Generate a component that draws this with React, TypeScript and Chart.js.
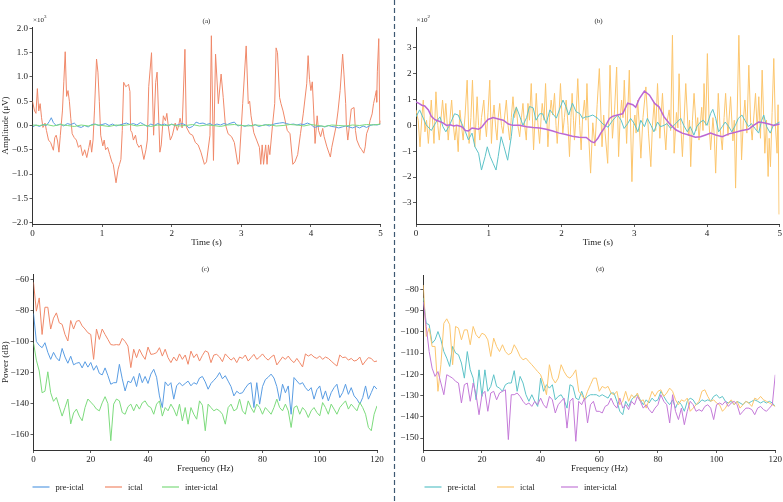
import React, { useEffect, useRef } from "react";
import { Chart, registerables } from "chart.js";
Chart.register(...registerables);

const FONT = '"Liberation Serif", "Times New Roman", Times, serif';
const W = 783;
const H = 502;

// ---------- (a) time domain, x10^3 µV : [time s, amplitude] ----------
const aIctal: number[][] = [[0.00,0.50],[0.03,0.30],[0.05,0.25],[0.07,0.76],[0.09,0.30],[0.11,0.45],[0.13,0.16],[0.15,-0.04],[0.18,0.05],[0.20,-0.10],[0.23,-0.30],[0.26,-0.35],[0.30,-0.51],[0.32,-0.25],[0.34,-0.20],[0.36,-0.32],[0.38,-0.55],[0.40,-0.20],[0.43,0.30],[0.45,0.90],[0.47,1.52],[0.49,0.60],[0.51,0.72],[0.53,0.50],[0.55,0.15],[0.57,-0.17],[0.60,-0.25],[0.63,-0.30],[0.66,-0.45],[0.69,-0.40],[0.72,-0.62],[0.75,-0.50],[0.78,-0.66],[0.81,-0.45],[0.83,-0.30],[0.85,-0.55],[0.87,-0.30],[0.89,0.30],[0.92,1.37],[0.94,1.10],[0.96,0.50],[0.98,-0.20],[1.01,-0.42],[1.03,-0.30],[1.05,-0.50],[1.08,-0.45],[1.11,-0.60],[1.14,-0.75],[1.16,-0.80],[1.20,-1.18],[1.23,-0.90],[1.25,-0.80],[1.27,-0.70],[1.29,-0.10],[1.31,0.89],[1.34,0.80],[1.36,0.82],[1.38,0.85],[1.40,0.70],[1.41,-0.10],[1.43,-0.15],[1.45,-0.30],[1.48,-0.20],[1.50,-0.37],[1.53,-0.45],[1.56,-0.40],[1.60,-0.70],[1.63,-0.50],[1.65,-0.30],[1.67,0.80],[1.71,1.50],[1.74,-0.20],[1.77,0.89],[1.79,1.10],[1.83,-0.55],[1.85,-0.40],[1.88,0.20],[1.91,0.10],[1.93,0.25],[1.95,0.00],[1.98,-0.30],[2.01,-0.20],[2.05,0.05],[2.08,-0.10],[2.10,0.00],[2.12,0.15],[2.15,-0.05],[2.19,1.57],[2.21,-0.03],[2.26,-0.17],[2.30,-0.20],[2.34,-0.35],[2.38,-0.40],[2.42,-0.55],[2.47,-0.80],[2.50,-0.75],[2.55,-0.20],[2.57,1.85],[2.60,-0.72],[2.63,1.47],[2.67,0.45],[2.71,1.06],[2.74,0.58],[2.77,0.03],[2.81,-0.17],[2.86,-0.23],[2.90,-0.35],[2.95,-0.80],[2.97,-0.75],[3.02,0.45],[3.07,1.64],[3.10,0.45],[3.12,0.50],[3.14,0.20],[3.18,-0.15],[3.22,-0.30],[3.26,-0.45],[3.28,-0.80],[3.30,-0.40],[3.32,-0.80],[3.35,-0.40],[3.37,-0.80],[3.39,-0.40],[3.41,-0.60],[3.45,0.03],[3.48,0.45],[3.50,1.60],[3.52,1.50],[3.55,0.58],[3.57,0.45],[3.60,0.30],[3.66,-0.10],[3.70,-0.17],[3.74,-0.80],[3.77,-0.75],[3.81,-0.60],[3.85,-0.17],[3.89,0.24],[3.94,0.86],[3.96,1.44],[3.98,0.95],[4.00,0.72],[4.02,0.90],[4.04,0.30],[4.06,-0.37],[4.09,0.20],[4.11,-0.10],[4.14,-0.23],[4.17,-0.06],[4.19,-0.23],[4.23,-0.44],[4.28,-0.65],[4.30,-0.45],[4.36,-0.03],[4.39,0.30],[4.42,0.72],[4.456,1.47],[4.475,1.06],[4.50,0.45],[4.51,0.00],[4.53,-0.30],[4.55,-0.05],[4.58,0.34],[4.62,0.37],[4.64,-0.10],[4.66,-0.30],[4.70,-0.44],[4.73,-0.50],[4.76,-0.57],[4.78,-0.44],[4.80,-0.17],[4.83,-0.05],[4.85,0.10],[4.88,0.24],[4.90,0.45],[4.92,0.58],[4.94,0.72],[4.945,0.48],[4.955,1.12],[4.975,1.79],[4.99,0.03],[5.00,0.10]];
const aPre: number[][] = [[0,-0.03],[0.05,0.01],[0.1,-0.02],[0.15,0.02],[0.2,0.0],[0.24,0.08],[0.27,0.16],[0.3,0.06],[0.34,0.0],[0.4,0.03],[0.45,-0.01],[0.5,0.04],[0.55,0.02],[0.6,0.05],[0.65,-0.02],[0.7,-0.04],[0.75,0.0],[0.8,-0.03],[0.85,0.02],[0.9,0.03],[0.95,0.0],[1.0,0.02],[1.05,0.04],[1.1,0.0],[1.15,0.03],[1.2,-0.01],[1.25,0.01],[1.3,0.03],[1.35,0.05],[1.4,0.02],[1.45,0.04],[1.5,0.01],[1.55,0.06],[1.6,0.02],[1.65,-0.02],[1.7,0.03],[1.75,0.0],[1.8,0.04],[1.85,0.01],[1.9,0.03],[1.95,-0.01],[2.0,0.03],[2.05,0.0],[2.1,0.02],[2.15,0.04],[2.2,0.01],[2.25,-0.05],[2.3,-0.02],[2.35,0.07],[2.4,0.04],[2.45,0.05],[2.5,0.02],[2.55,0.04],[2.6,0.0],[2.65,0.03],[2.7,0.01],[2.75,0.04],[2.8,0.02],[2.85,0.05],[2.9,0.07],[2.95,-0.01],[3.0,0.01],[3.05,-0.02],[3.1,0.01],[3.15,-0.01],[3.2,0.02],[3.25,-0.02],[3.3,0.0],[3.35,0.02],[3.4,-0.01],[3.45,0.02],[3.5,0.04],[3.55,0.05],[3.6,0.06],[3.65,0.04],[3.7,0.02],[3.75,0.03],[3.8,0.01],[3.85,0.03],[3.9,0.02],[3.95,0.05],[4.0,0.02],[4.05,-0.04],[4.1,-0.02],[4.15,-0.01],[4.2,-0.03],[4.25,0.0],[4.3,-0.02],[4.35,-0.03],[4.4,-0.05],[4.45,-0.03],[4.5,-0.01],[4.55,-0.03],[4.6,-0.05],[4.65,-0.02],[4.7,-0.05],[4.75,-0.01],[4.8,-0.04],[4.85,0.0],[4.9,0.02],[4.95,0.01],[5.0,0.03]];
const aInter: number[][] = [[0,0.01],[0.1,0.0],[0.2,0.02],[0.3,-0.01],[0.4,0.02],[0.5,0.0],[0.6,-0.02],[0.7,0.01],[0.8,-0.01],[0.9,0.02],[1.0,0.0],[1.1,-0.02],[1.2,0.01],[1.3,0.0],[1.4,0.02],[1.5,-0.01],[1.6,0.01],[1.7,-0.02],[1.8,0.01],[1.9,0.0],[2.0,0.02],[2.1,-0.01],[2.2,0.0],[2.3,0.02],[2.4,-0.01],[2.5,0.01],[2.6,0.0],[2.7,-0.02],[2.8,0.01],[2.9,0.02],[3.0,0.0],[3.1,-0.01],[3.2,0.01],[3.3,0.0],[3.4,0.02],[3.5,-0.01],[3.6,0.0],[3.7,0.02],[3.8,0.01],[3.9,-0.01],[4.0,0.02],[4.1,0.0],[4.2,-0.02],[4.3,0.01],[4.4,0.0],[4.5,-0.01],[4.6,0.01],[4.7,0.0],[4.8,0.02],[4.9,0.01],[5.0,0.03]];

// ---------- (b) time domain, x10^2 µV : [time s, amplitude] ----------
const bIctal: number[][] = [[0.00,0.60],[0.03,0.20],[0.055,-0.83],[0.08,0.30],[0.10,0.98],[0.123,-0.25],[0.145,0.20],[0.17,-0.70],[0.19,0.10],[0.21,0.98],[0.247,-0.70],[0.274,1.30],[0.30,0.00],[0.32,-0.57],[0.345,0.30],[0.365,0.98],[0.39,0.10],[0.41,0.85],[0.443,-0.57],[0.465,0.20],[0.49,0.98],[0.51,0.10],[0.534,-0.57],[0.555,0.00],[0.58,-1.02],[0.603,0.59],[0.625,0.00],[0.648,-0.57],[0.675,0.40],[0.703,1.75],[0.73,-0.70],[0.755,0.30],[0.776,1.75],[0.808,-0.83],[0.825,0.20],[0.84,1.11],[0.86,0.00],[0.877,-0.57],[0.90,0.30],[0.932,0.98],[0.95,0.10],[0.968,-0.44],[0.99,0.50],[1.014,1.75],[1.037,-0.70],[1.055,0.30],[1.073,0.79],[1.095,-0.10],[1.114,-0.57],[1.13,0.30],[1.151,0.85],[1.175,0.00],[1.196,-0.31],[1.22,0.40],[1.242,0.98],[1.265,0.00],[1.288,-0.57],[1.31,0.30],[1.333,1.11],[1.355,0.30],[1.379,0.72],[1.40,0.00],[1.425,-0.44],[1.45,0.30],[1.47,0.85],[1.49,0.10],[1.516,-0.57],[1.539,0.85],[1.56,0.20],[1.584,1.62],[1.616,-0.95],[1.635,0.20],[1.653,1.24],[1.675,0.10],[1.699,-0.70],[1.72,0.30],[1.735,0.85],[1.76,0.20],[1.781,1.62],[1.813,-0.83],[1.835,0.30],[1.858,0.98],[1.88,0.40],[1.904,1.24],[1.925,0.00],[1.941,-0.70],[1.965,0.40],[1.986,1.62],[2.018,-0.31],[2.04,0.30],[2.064,0.98],[2.09,0.00],[2.11,-1.21],[2.13,0.30],[2.146,1.24],[2.165,0.20],[2.178,-0.57],[2.20,0.40],[2.224,1.81],[2.25,0.00],[2.27,-0.95],[2.29,0.30],[2.315,0.98],[2.335,0.20],[2.35,1.62],[2.375,-0.50],[2.40,-1.85],[2.43,0.10],[2.46,-0.80],[2.49,0.80],[2.52,2.20],[2.557,-0.83],[2.58,0.40],[2.60,-0.30],[2.635,-1.47],[2.667,2.33],[2.70,-0.50],[2.73,0.60],[2.758,2.26],[2.785,-1.21],[2.805,0.20],[2.826,0.98],[2.845,0.30],[2.863,1.75],[2.895,-0.70],[2.932,2.14],[2.968,-2.18],[2.99,0.00],[3.009,0.40],[3.025,-0.30],[3.046,0.98],[3.07,0.00],[3.091,-1.27],[3.12,0.30],[3.16,1.49],[3.196,-0.30],[3.228,-1.60],[3.25,0.00],[3.274,0.90],[3.295,-0.20],[3.32,1.62],[3.352,-0.50],[3.388,1.24],[3.41,0.00],[3.434,-0.95],[3.455,0.20],[3.48,0.60],[3.50,-0.20],[3.525,3.49],[3.548,-1.08],[3.58,0.50],[3.60,-0.10],[3.616,2.00],[3.64,0.00],[3.662,-1.21],[3.685,0.20],[3.708,1.62],[3.744,-0.40],[3.76,0.20],[3.776,-1.60],[3.80,0.20],[3.822,1.24],[3.854,-0.20],[3.872,0.30],[3.89,-0.57],[3.927,0.70],[3.945,-0.20],[3.959,1.62],[3.982,0.00],[4.005,2.78],[4.03,0.00],[4.05,-0.95],[4.082,0.30],[4.10,-0.40],[4.119,-1.85],[4.155,1.24],[4.18,-0.10],[4.21,-0.95],[4.235,0.30],[4.256,1.24],[4.288,-0.40],[4.324,1.11],[4.356,-0.60],[4.375,0.20],[4.393,-2.43],[4.438,3.49],[4.475,-1.34],[4.50,0.20],[4.521,0.98],[4.548,-0.30],[4.575,2.33],[4.60,0.10],[4.621,-0.57],[4.645,0.40],[4.667,1.24],[4.69,-0.20],[4.712,1.11],[4.735,-0.50],[4.758,2.14],[4.795,-1.08],[4.818,0.20],[4.84,-1.98],[4.855,-0.50],[4.872,-1.60],[4.895,0.50],[4.918,2.59],[4.94,0.00],[4.963,-1.08],[4.977,0.80],[4.99,-3.45]];
const bPre: number[][] = [[0.00,0.33],[0.05,0.60],[0.10,0.28],[0.14,0.02],[0.21,-0.20],[0.27,0.10],[0.33,0.33],[0.37,-0.05],[0.41,-0.25],[0.46,0.00],[0.53,0.45],[0.58,0.40],[0.63,0.07],[0.68,-0.25],[0.72,-0.56],[0.77,-0.30],[0.81,-0.83],[0.86,-1.08],[0.90,-1.73],[0.95,-1.21],[0.98,-0.83],[1.02,-1.21],[1.06,-1.47],[1.10,-1.73],[1.13,-1.21],[1.17,-0.44],[1.21,-0.83],[1.26,-1.35],[1.31,-0.44],[1.34,0.40],[1.38,0.70],[1.42,0.40],[1.47,0.00],[1.52,0.30],[1.56,0.73],[1.61,0.68],[1.65,0.20],[1.70,0.45],[1.74,0.45],[1.79,0.07],[1.84,0.60],[1.88,0.45],[1.93,0.28],[1.97,0.60],[2.02,0.98],[2.06,0.73],[2.10,0.40],[2.15,0.86],[2.20,0.53],[2.25,0.46],[2.29,0.27],[2.33,0.33],[2.36,0.33],[2.43,0.40],[2.50,0.27],[2.57,0.05],[2.64,-0.07],[2.70,0.18],[2.77,0.40],[2.82,0.20],[2.86,-0.12],[2.91,0.07],[2.95,0.27],[3.00,0.07],[3.05,-0.25],[3.09,0.20],[3.14,-0.05],[3.18,0.27],[3.23,0.00],[3.27,-0.25],[3.32,0.13],[3.36,-0.05],[3.41,0.00],[3.45,0.07],[3.50,-0.12],[3.57,0.07],[3.64,0.27],[3.68,0.00],[3.73,-0.25],[3.77,-0.05],[3.82,-0.38],[3.86,-0.05],[3.91,0.13],[3.95,0.20],[4.00,0.00],[4.05,0.46],[4.08,0.62],[4.12,0.27],[4.16,-0.25],[4.21,-0.05],[4.25,0.13],[4.30,-0.05],[4.34,-0.25],[4.39,0.00],[4.43,0.27],[4.48,0.40],[4.52,0.20],[4.57,-0.05],[4.61,0.07],[4.66,-0.12],[4.71,-0.30],[4.75,0.18],[4.78,0.40],[4.82,-0.05],[4.87,-0.30],[4.91,0.00],[4.96,0.07],[5.00,0.13]];
const bInter: number[][] = [[0.00,0.91],[0.04,0.85],[0.08,0.78],[0.12,0.75],[0.17,0.60],[0.21,0.35],[0.26,0.22],[0.30,0.18],[0.37,0.10],[0.42,0.00],[0.47,0.02],[0.52,-0.02],[0.56,0.00],[0.63,-0.05],[0.68,-0.20],[0.72,-0.22],[0.77,-0.10],[0.81,-0.12],[0.86,-0.15],[0.90,-0.08],[0.95,0.10],[0.99,0.23],[1.06,0.30],[1.13,0.25],[1.20,0.20],[1.27,0.05],[1.33,0.00],[1.42,0.00],[1.52,-0.05],[1.61,-0.08],[1.70,-0.10],[1.79,-0.15],[1.88,-0.22],[1.97,-0.30],[2.06,-0.35],[2.15,-0.42],[2.24,-0.46],[2.34,-0.47],[2.41,-0.63],[2.45,-0.67],[2.50,-0.50],[2.54,-0.30],[2.59,-0.10],[2.66,0.27],[2.70,0.35],[2.77,0.40],[2.84,0.45],[2.91,0.86],[2.98,0.80],[3.02,0.70],[3.07,1.04],[3.14,1.33],[3.21,1.17],[3.28,0.85],[3.34,0.72],[3.41,0.33],[3.48,0.08],[3.57,-0.17],[3.66,-0.30],[3.75,-0.37],[3.84,-0.46],[3.91,-0.44],[3.98,-0.37],[4.05,-0.30],[4.12,-0.37],[4.21,-0.44],[4.30,-0.33],[4.39,-0.27],[4.48,-0.20],[4.57,-0.15],[4.64,0.00],[4.71,0.13],[4.78,0.10],[4.85,0.05],[4.92,0.00],[5.00,0.05]];

// ---------- (c),(d) power spectra, dB, one value per 1 Hz bin ----------
const freqHz: number[] = Array.from({ length: 121 }, (_, i) => i);
const cPre: number[] = [-82,-100,-102.5,-104,-100.8,-107,-111.5,-107,-110.5,-112.5,-104.5,-110,-114,-109.5,-115,-114,-113.5,-117,-113,-116.5,-113.5,-118.5,-115.5,-120.5,-121.5,-117,-122,-127.5,-126.5,-126.5,-114.7,-124,-131.8,-125.5,-126.5,-122.5,-129,-120.5,-126.5,-122.5,-127,-121,-117.9,-123,-135,-142.5,-126,-128.5,-126.5,-137.1,-128.5,-126.5,-128.5,-127,-125.5,-128.5,-126.5,-127.5,-123.5,-122.5,-126,-130.7,-127,-125,-123,-120,-124,-122,-125.5,-129,-135,-132,-133.5,-133,-130,-127.5,-126.5,-142.5,-126.5,-140.3,-129,-124.5,-123,-121,-123.5,-129,-138.2,-127.5,-133,-128.6,-146.8,-123.2,-125.4,-127.5,-126.5,-129.7,-131.8,-129.7,-137.1,-131,-128.6,-137.1,-131.8,-138.2,-132.9,-129.7,-127.5,-136.1,-132.9,-127.5,-134,-129.7,-135,-137.1,-140.3,-136.1,-128.6,-137.1,-132.9,-128.6,-130.7];
const cIctal: number[] = [-62,-80.5,-72,-95.5,-78,-78,-92,-85,-81.6,-88,-89,-95.5,-99.7,-86.5,-92,-87,-86.5,-90,-92,-94.4,-95.5,-111.5,-92,-98.7,-92,-95.5,-98.7,-102,-102.3,-102,-102.3,-98,-100,-103,-116.8,-105,-110.4,-105,-108.7,-111.5,-103.6,-108.3,-108,-107.2,-104,-109.4,-105,-110.4,-113.6,-110,-112.6,-108,-111.5,-108.7,-114.7,-106.2,-110.4,-108,-112.6,-109,-106,-107,-113.6,-108.7,-108.3,-110,-113,-108,-110,-112,-110.4,-113.6,-110,-110.9,-108.7,-112.6,-110.4,-108.3,-111.5,-110,-108,-110.4,-112,-110,-108.7,-115.1,-112.6,-110,-111.5,-109.4,-112,-113.6,-110.9,-113.6,-116.4,-108,-109.4,-108.3,-110,-110.9,-109.4,-111.5,-110,-110.9,-112.6,-114.3,-115.8,-108.7,-110.4,-110,-112,-110.9,-112.6,-112,-110,-115.1,-112.6,-110.4,-110.9,-113,-112.6];
const cInter: number[] = [-100.8,-112,-119,-133,-132,-119.5,-133,-138.5,-136,-142,-148,-142.5,-137,-153,-146,-143.5,-148,-151,-142.5,-137,-139,-141,-143.5,-144.6,-139.5,-135.5,-140,-163.8,-140.3,-137,-138.2,-145.7,-146.8,-142,-140.3,-144.6,-140.3,-143.5,-139.5,-138.2,-141.4,-142.5,-146.8,-140.3,-138.2,-148,-142.5,-144.6,-140.3,-143.5,-148,-140.3,-151,-142.5,-153.2,-142.5,-146.8,-150,-138.2,-141,-157.4,-140.3,-142.5,-144.6,-143.5,-144.6,-146.8,-153.2,-142.5,-140.3,-144.6,-143.5,-137.1,-144.6,-146.8,-138.2,-142.5,-145.7,-140.3,-142.5,-146.8,-142.5,-144.6,-146.8,-142.5,-137.1,-142.5,-144.6,-140.3,-144.6,-155.3,-142.5,-141.4,-146.8,-142.5,-144.6,-148.9,-144.6,-142.5,-145.7,-147.8,-139.3,-142.5,-146.8,-140.3,-143.5,-146.8,-142.5,-140.3,-138.2,-143.5,-140.3,-142.5,-144.6,-139.3,-142.5,-146.8,-155.3,-157.4,-146.8,-141.4];
const dPre: number[] = [-84,-96,-96.7,-105.4,-103.8,-99.9,-103.8,-109.3,-112.4,-116.3,-106.9,-110,-110.8,-114.7,-121.8,-109.3,-117.9,-121.8,-132,-117.9,-130.4,-117.9,-128,-125.7,-120.2,-125.7,-126.5,-128,-124.9,-124.1,-124.1,-118.3,-128,-121,-124.1,-129.6,-132.7,-129.6,-132.7,-135.1,-121.8,-128,-124.9,-126.5,-124.9,-132,-130.4,-129.6,-132,-135.9,-124.9,-125.7,-131.2,-132,-128,-132,-130.4,-129.6,-129.6,-129.6,-130.4,-129.6,-130.4,-131.2,-128.8,-128.8,-132.7,-137.4,-139,-132.7,-135.1,-132,-130.4,-129.6,-132,-134.3,-132,-133.5,-131.2,-132.7,-132,-128,-130.4,-132.7,-134.3,-132,-135.9,-132.7,-134.3,-137.4,-132.7,-131.2,-132,-134.3,-133.5,-132,-132.7,-132,-132.7,-130.4,-129.6,-131.2,-130.4,-132.7,-133.5,-132.7,-134.3,-132.7,-133.5,-134.3,-132.7,-133.5,-132.7,-132,-132.7,-133.5,-132.7,-133.5,-132.7,-133.5,-135.1];
const dIctal: number[] = [-78,-102.2,-98.3,-106.9,-106.9,-128,-115.5,-96,-93.9,-96.7,-115.5,-97.5,-98.3,-103.8,-99.1,-99.1,-106.1,-97.5,-101.4,-103,-100.7,-101.4,-103.8,-111.6,-103,-106.9,-109.3,-106.1,-109.3,-110.8,-110,-106.1,-108.5,-111.6,-113.2,-112.4,-114,-115.5,-117.1,-118.7,-120.2,-124.1,-129.6,-115.5,-121.8,-124.1,-121.8,-115.5,-118.7,-121,-121.8,-120.2,-117.9,-128,-129.6,-132,-128,-124.9,-121.8,-121.8,-128,-125.7,-126.5,-125.7,-128.8,-129.6,-128,-134.3,-132.7,-128,-132.7,-129.6,-131.2,-128.8,-132.7,-132,-135.9,-132,-128,-130.4,-128,-127.3,-130.4,-128.8,-126.5,-128,-132,-134.3,-132,-132.7,-131.2,-137.4,-135.9,-134.3,-132.7,-128,-127.3,-130.4,-132.7,-132,-133.5,-134.3,-137.4,-135.9,-133.5,-132,-134.3,-132.7,-135.9,-134.3,-132.7,-133.5,-135.1,-131.2,-132,-130.4,-132,-132.7,-133.5,-134.3,-135.1];
const dInter: number[] = [-86,-97.5,-109.3,-117.1,-121,-118.7,-124.1,-129.6,-120.2,-121,-121.8,-123.3,-124.1,-133.5,-124.9,-124.1,-132.7,-124.1,-129.6,-139,-129.6,-128,-137.4,-128.8,-128,-132,-128.8,-128,-127.3,-150.7,-129.6,-129.6,-128.8,-130.4,-132.7,-134.3,-133.5,-135.1,-132.7,-134.3,-131.2,-134.3,-135.9,-130.4,-132,-138.2,-134.3,-132.7,-131.2,-145.3,-132.7,-131.2,-151.5,-132.7,-134.3,-131.2,-142.9,-134.3,-132.7,-137.4,-137.4,-138.2,-135.1,-134.3,-131.2,-134.3,-135.9,-131.2,-135.9,-134.3,-136.6,-132.7,-134.3,-130.4,-132.7,-135.9,-134.3,-136.6,-138.2,-135.9,-134.3,-129.6,-132.7,-134.3,-142.9,-129.6,-137.4,-141.3,-135.9,-143.7,-137.4,-132.7,-134.3,-137.4,-136.6,-137.4,-135.1,-134.3,-135.9,-141.3,-134.3,-133.5,-134.3,-132.7,-135.1,-133.5,-132.7,-134.3,-139,-137.4,-135.9,-135.9,-136.6,-139,-135.9,-135.1,-136.6,-137.4,-135.9,-134.3,-120.2];

// ---------- ticks / labels ----------
const timeTicks = [0, 1, 2, 3, 4, 5];
const aYTicks = [-2, -1.5, -1, -0.5, 0, 0.5, 1, 1.5, 2];
const bYTicks = [-3, -2, -1, 0, 1, 2, 3];
const freqTicks = [0, 20, 40, 60, 80, 100, 120];
const cYTicks = [-160, -140, -120, -100, -80, -60];
const dYTicks = [-150, -140, -130, -120, -110, -100, -90, -80];
const seriesNames = ["pre-ictal", "ictal", "inter-ictal"];

const COL = {
  preA: "#5a9de3",
  ictA: "#f0896a",
  intA: "#7ddb7d",
  preB: "#5ec3c8",
  ictB: "#fcc66e",
  intB: "#c47ad8",
};
const AXIS = "#333333";

const pairs = (arr: number[][]) => arr.map(([x, y]) => ({ x, y }));
const spec = (vals: number[]) => vals.map((y, i) => ({ x: freqHz[i], y }));
const fmtMinus = (s: string) => s.replace("-", "\u2212");

type Panel = {
  l: number; t: number; r: number; b: number;
  yW: number;
  xMin: number; xMax: number; yMin: number; yMax: number;
  xTicks: number[]; yTicks: number[]; yDec: number;
  xTitle: string; yTitle?: string;
  datasets: any[];
};

const line = (label: string, data: any[], color: string, width = 1) => ({
  label, data, borderColor: color, backgroundColor: color, borderWidth: width,
  pointRadius: 0, tension: 0, fill: false,
});

const panels: Panel[] = [
  {
    l: 32.5, t: 27, r: 380.5, b: 224, yW: 32.5,
    xMin: 0, xMax: 5, yMin: -2.03, yMax: 2.03,
    xTicks: timeTicks, yTicks: aYTicks, yDec: 1,
    xTitle: "Time (s)", yTitle: "Amplitude (\u03bcV)",
    datasets: [
      line(seriesNames[2], pairs(aInter), COL.intA),
      line(seriesNames[0], pairs(aPre), COL.preA),
      line(seriesNames[1], pairs(aIctal), COL.ictA),
    ],
  },
  {
    l: 416, t: 27, r: 781, b: 224, yW: 30,
    xMin: 0, xMax: 5, yMin: -3.82, yMax: 3.81,
    xTicks: timeTicks, yTicks: bYTicks, yDec: 0,
    xTitle: "Time (s)",
    datasets: [
      line(seriesNames[2], pairs(bInter), "#bb66d4", 1.5),
      line(seriesNames[0], pairs(bPre), COL.preB),
      line(seriesNames[1], pairs(bIctal), COL.ictB),
    ],
  },
  {
    l: 33.5, t: 274.3, r: 377, b: 450, yW: 33.5,
    xMin: 0, xMax: 120, yMin: -169.8, yMax: -56.8,
    xTicks: freqTicks, yTicks: cYTicks, yDec: 0,
    xTitle: "Frequency (Hz)", yTitle: "Power (dB)",
    datasets: [
      line(seriesNames[2], spec(cInter), COL.intA),
      line(seriesNames[1], spec(cIctal), COL.ictA),
      line(seriesNames[0], spec(cPre), COL.preA),
    ],
  },
  {
    l: 423.3, t: 275, r: 776.7, b: 450, yW: 30,
    xMin: 0, xMax: 120, yMin: -155.6, yMax: -73.3,
    xTicks: freqTicks, yTicks: dYTicks, yDec: 0,
    xTitle: "Frequency (Hz)",
    datasets: [
      line(seriesNames[2], spec(dInter), COL.intB),
      line(seriesNames[1], spec(dIctal), COL.ictB),
      line(seriesNames[0], spec(dPre), COL.preB),
    ],
  },
];

const TICK_FONT = { family: FONT, size: 9 };
const XH = 24.4;

function build(canvas: HTMLCanvasElement, p: Panel) {
  const axisCommon = {
    type: "linear" as const,
    grid: { display: true, drawOnChartArea: false, drawTicks: true, tickLength: 3, tickColor: AXIS, tickWidth: 0.8 },
    border: { display: true, color: AXIS, width: 1 },
  };
  return new Chart(canvas, {
    type: "line",
    data: { datasets: p.datasets },
    options: {
      responsive: false,
      animation: false,
      events: [],
      devicePixelRatio: 1,
      layout: { padding: { left: p.l - p.yW, top: p.t, right: W - p.r, bottom: H - p.b - XH } },
      plugins: { legend: { display: false }, tooltip: { enabled: false }, title: { display: false } },
      scales: {
        x: {
          ...axisCommon,
          min: p.xMin, max: p.xMax,
          afterFit: (s: any) => { s.height = XH; },
          afterBuildTicks: (s: any) => { s.ticks = p.xTicks.map((v) => ({ value: v })); },
          ticks: { font: TICK_FONT, color: "#222", padding: 1, maxRotation: 0, autoSkip: false,
            callback: (v: any) => fmtMinus(String(v)) },
          title: { display: true, text: p.xTitle, font: TICK_FONT, color: "#222", padding: 0 },
        },
        y: {
          ...axisCommon,
          min: p.yMin, max: p.yMax,
          afterFit: (s: any) => { s.width = p.yW; },
          afterBuildTicks: (s: any) => { s.ticks = p.yTicks.map((v) => ({ value: v })); },
          ticks: { font: TICK_FONT, color: "#222", padding: 1.5, autoSkip: false,
            callback: (v: any) => fmtMinus(Number(v).toFixed(p.yDec)) },
          title: { display: !!p.yTitle, text: p.yTitle || "", font: TICK_FONT, color: "#222", padding: 0 },
        },
      },
    } as any,
  });
}

const abs = (extra: React.CSSProperties): React.CSSProperties => ({ position: "absolute", ...extra });

function Legend({ items, y }: { items: { label: string; color: string; x: number }[]; y: number }) {
  return (
    <>
      <svg width={W} height={H} style={abs({ left: 0, top: 0, pointerEvents: "none" })}>
        {items.map((it) => (
          <line key={it.label} x1={it.x} y1={y} x2={it.x + 17} y2={y} stroke={it.color} strokeWidth={1.2} />
        ))}
      </svg>
      {items.map((it) => (
        <div key={it.label} style={abs({ left: it.x + 23, top: y - 6, fontSize: 8.5, lineHeight: "12px", color: "#222", whiteSpace: "nowrap" })}>{it.label}</div>
      ))}
    </>
  );
}

export default function App() {
  const r0 = useRef<HTMLCanvasElement>(null);
  const r1 = useRef<HTMLCanvasElement>(null);
  const r2 = useRef<HTMLCanvasElement>(null);
  const r3 = useRef<HTMLCanvasElement>(null);
  const refs = [r0, r1, r2, r3];

  useEffect(() => {
    const charts = panels.map((p, i) => build(refs[i].current as HTMLCanvasElement, p));
    return () => charts.forEach((c) => c.destroy());
  }, []);

  const titleStyle = (cx: number, cy: number): React.CSSProperties =>
    abs({ left: cx - 20, width: 40, top: cy - 5, textAlign: "center", fontSize: 7, lineHeight: "10px", color: "#222" });

  return (
    <div style={{ position: "fixed", left: 0, top: 0, width: W, height: H, background: "#fff", fontFamily: FONT, overflow: "hidden" }}>
      {refs.map((r, i) => (
        <canvas key={i} ref={r} width={W} height={H} style={abs({ left: 0, top: 0, width: W, height: H })} />
      ))}
      <svg width={W} height={H} style={abs({ left: 0, top: 0, pointerEvents: "none" })}>
        <line x1={394.5} y1={0} x2={394.5} y2={H} stroke="#3d5872" strokeWidth={1.2} strokeDasharray="5 3" />
      </svg>
      <div style={titleStyle(206.5, 20.5)}>(a)</div>
      <div style={titleStyle(598.5, 20.5)}>(b)</div>
      <div style={titleStyle(205.3, 269)}>(c)</div>
      <div style={titleStyle(600, 268.5)}>(d)</div>
      <div style={abs({ left: 33, top: 15, fontSize: 7, lineHeight: "10px", color: "#222" })}>
        ×10<sup style={{ fontSize: 5, verticalAlign: "4px", lineHeight: 0 }}>3</sup>
      </div>
      <div style={abs({ left: 416.5, top: 15, fontSize: 7, lineHeight: "10px", color: "#222" })}>
        ×10<sup style={{ fontSize: 5, verticalAlign: "4px", lineHeight: 0 }}>2</sup>
      </div>
      <Legend y={487} items={[
        { label: seriesNames[0], color: COL.preA, x: 32.5 },
        { label: seriesNames[1], color: COL.ictA, x: 105 },
        { label: seriesNames[2], color: COL.intA, x: 162 },
      ]} />
      <Legend y={487} items={[
        { label: seriesNames[0], color: COL.preB, x: 424.5 },
        { label: seriesNames[1], color: COL.ictB, x: 497 },
        { label: seriesNames[2], color: COL.intB, x: 561 },
      ]} />
    </div>
  );
}
